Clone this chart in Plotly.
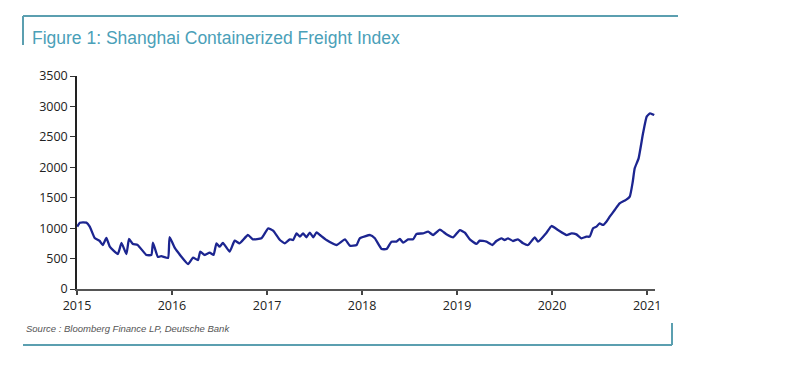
import plotly.graph_objects as go

# Shanghai Containerized Freight Index
dates = [
    "2015-01-02", "2015-01-12", "2015-02-06", "2015-02-19", "2015-03-10", "2015-03-29",
    "2015-04-10", "2015-04-24", "2015-05-07", "2015-06-07", "2015-06-21", "2015-07-10",
    "2015-07-20", "2015-08-04", "2015-08-22", "2015-09-25", "2015-10-14", "2015-10-20",
    "2015-11-08", "2015-11-21", "2015-12-17", "2015-12-23", "2016-01-12", "2016-03-03",
    "2016-03-22", "2016-04-10", "2016-04-19", "2016-05-06", "2016-05-25", "2016-06-09",
    "2016-06-20", "2016-07-02", "2016-07-15", "2016-08-10", "2016-08-29", "2016-09-17",
    "2016-10-19", "2016-11-07", "2016-12-10", "2017-01-05", "2017-01-24", "2017-02-19",
    "2017-03-10", "2017-03-29", "2017-04-11", "2017-04-24", "2017-05-07", "2017-05-19",
    "2017-06-01", "2017-06-14", "2017-06-27", "2017-07-10", "2017-07-23", "2017-08-17",
    "2017-09-25", "2017-10-27", "2017-11-15", "2017-12-11", "2017-12-23", "2018-02-01",
    "2018-02-19", "2018-03-17", "2018-04-05", "2018-04-24", "2018-05-13", "2018-05-26",
    "2018-06-08", "2018-06-27", "2018-07-16", "2018-07-29", "2018-08-23", "2018-09-12",
    "2018-10-01", "2018-10-27", "2018-11-21", "2018-12-17", "2019-01-12", "2019-01-31",
    "2019-02-19", "2019-03-17", "2019-03-29", "2019-04-24", "2019-05-17", "2019-06-01",
    "2019-06-21", "2019-07-03", "2019-07-16", "2019-08-04", "2019-08-23", "2019-09-12",
    "2019-10-01", "2019-10-27", "2019-11-08", "2019-12-11", "2019-12-30", "2020-01-24",
    "2020-02-26", "2020-03-16", "2020-04-04", "2020-04-23", "2020-05-12", "2020-05-25",
    "2020-06-07", "2020-06-20", "2020-07-02", "2020-07-15", "2020-07-28", "2020-08-10",
    "2020-08-29", "2020-09-17", "2020-10-10", "2020-10-26", "2020-11-06", "2020-11-14",
    "2020-11-29", "2020-12-16", "2020-12-30", "2021-01-12", "2021-01-28",
]
scfi = [
    1024, 1090, 1090, 1024, 838, 789,
    723, 838, 695, 575, 756, 575,
    822, 740, 723, 559, 559, 761,
    526, 540, 510, 854, 674, 411,
    515, 476, 613, 559, 597, 559,
    751, 695, 756, 613, 794, 751,
    887, 816, 833, 997, 958, 805,
    751, 816, 805, 915, 860, 915,
    850, 925, 850, 930, 887, 805,
    723, 816, 712, 723, 833, 887,
    833, 657, 657, 778, 778, 822,
    761, 816, 816, 904, 915, 942,
    887, 975, 900, 849, 969, 925,
    816, 740, 794, 778, 723, 789,
    833, 805, 833, 789, 816, 751,
    723, 849, 778, 925, 1035, 969,
    887, 915, 898, 833, 860, 860,
    997, 1024, 1079, 1052, 1106, 1188,
    1298, 1408, 1460, 1517, 1750, 1983,
    2147, 2558, 2832, 2887, 2859,
]

x_ticks = ["2015-01-01", "2016-01-01", "2017-01-01", "2018-01-01",
           "2019-01-01", "2020-01-01", "2021-01-01"]
x_tick_labels = ["2015", "2016", "2017", "2018", "2019", "2020", "2021"]
y_ticks = [0, 500, 1000, 1500, 2000, 2500, 3000, 3500]

title_text = "Figure 1: Shanghai Containerized Freight Index"
source_text = "Source : Bloomberg Finance LP, Deutsche Bank"

TEAL = "#4aa0b8"
FRAME = "#5b9fb0"

# page body has an 8px default margin; work in screen pixels and shift
OX, OY = 8, 8
W, H = 770, 350
PL, PR, PT, PB = 77, 655, 76, 289  # plot area in screen pixels

fig = go.Figure()
fig.add_trace(go.Scatter(
    x=dates, y=scfi, mode="lines",
    line=dict(color="#1c2590", width=2.3, shape="spline", smoothing=0.4),
    hoverinfo="x+y", showlegend=False,
))

fig.update_layout(
    width=W, height=H,
    margin=dict(l=PL - OX, r=W - (PR - OX), t=PT - OY, b=H - (PB - OY)),
    paper_bgcolor="white", plot_bgcolor="white",
    font=dict(family="Open Sans, Liberation Sans, Arial, sans-serif", size=12, color="#222"),
    xaxis=dict(
        type="date", range=["2015-01-01", "2021-01-31"],
        tickvals=x_ticks, ticktext=x_tick_labels,
        showgrid=False, zeroline=False,
        showline=True, linecolor="#555", linewidth=2,
        ticks="outside", ticklen=4, tickcolor="#444", tickwidth=1.5,
        tickfont=dict(size=12.5, color="#222"),
    ),
    yaxis=dict(
        range=[0, 3500], tickvals=y_ticks,
        showgrid=False, zeroline=False,
        showline=True, linecolor="#222", linewidth=1.5,
        ticks="outside", ticklen=5, tickcolor="#333", tickwidth=1.2,
        tickfont=dict(size=12.5, color="#222"),
    ),
)

pw = PR - PL
ph = PB - PT


def px(xp):
    return (xp - PL) / pw


def py(yp):
    return (PB - yp) / ph


frame = [
    (23, 16, 678, 16), (23, 16, 23, 45),
    (23, 345, 672, 345), (672, 323, 672, 345),
]
for x0, y0, x1, y1 in frame:
    fig.add_shape(type="line", xref="paper", yref="paper",
                  x0=px(x0), y0=py(y0), x1=px(x1), y1=py(y1),
                  line=dict(color=FRAME, width=2))

fig.add_annotation(
    text=title_text, xref="paper", yref="paper",
    x=px(30), y=py(38), xanchor="left", yanchor="middle",
    showarrow=False, font=dict(size=17.5, color=TEAL, family="Liberation Sans, Arial, sans-serif"),
)
fig.add_annotation(
    text="<i>" + source_text + "</i>", xref="paper", yref="paper",
    x=px(24), y=py(328), xanchor="left", yanchor="middle",
    showarrow=False, font=dict(size=9.5, color="#555", family="Liberation Sans, Arial, sans-serif"),
)

fig.write_html("out.html")
